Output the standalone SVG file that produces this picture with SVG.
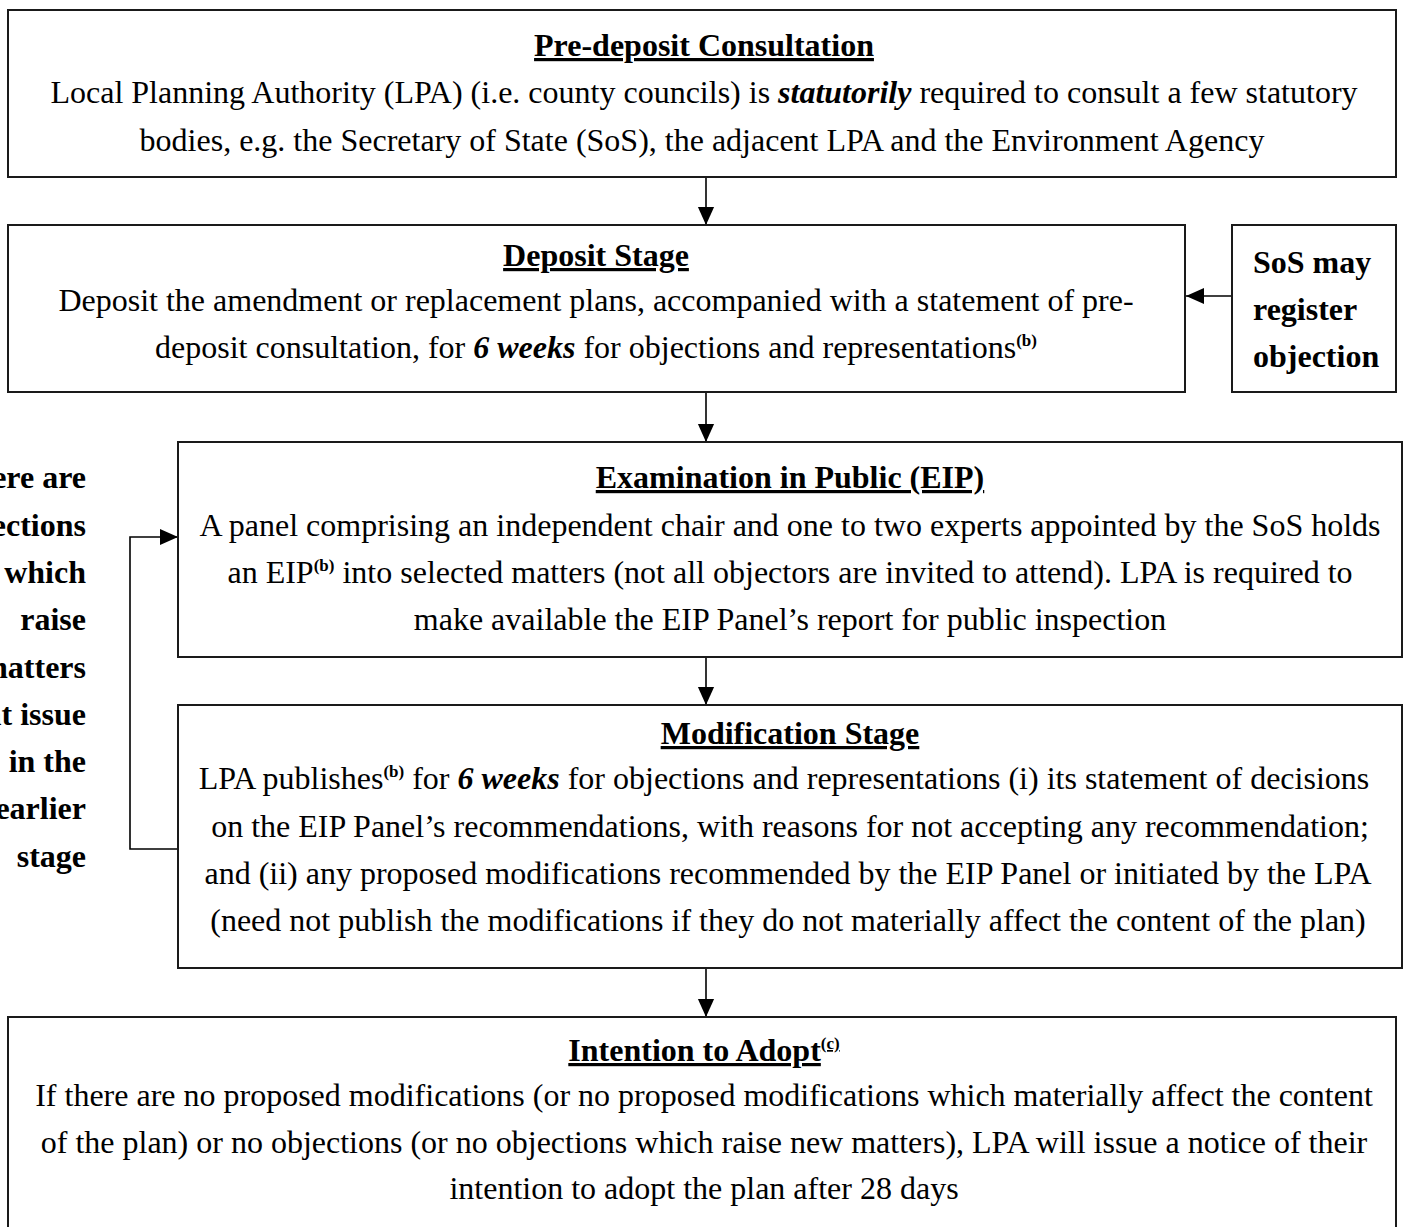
<svg xmlns="http://www.w3.org/2000/svg" width="1404" height="1227" viewBox="0 0 1404 1227">
  <style>
    .box { fill: #fff; stroke: #1a1a1a; stroke-width: 2; }
    .txt { font-family: "Liberation Serif", "Times New Roman", serif; font-size: 32px; fill: #000; }
    .ttl { font-family: "Liberation Serif", "Times New Roman", serif; font-size: 32px; font-weight: bold; text-decoration: underline; fill: #000; }
    .side { font-family: "Liberation Serif", "Times New Roman", serif; font-size: 32px; font-weight: bold; fill: #000; }
    .c { text-anchor: middle; }
    .r { text-anchor: end; }
    .bi { font-weight: bold; font-style: italic; }
    .sup { font-size: 17px; font-weight: bold; }
    .wire { fill: none; stroke: #000; stroke-width: 1.6; }
  </style>
  <defs>
    <marker id="arrow" viewBox="0 0 10 10" refX="10" refY="5" markerUnits="userSpaceOnUse" markerWidth="18" markerHeight="18" orient="auto">
      <path d="M0,0.5 L10,5 L0,9.5 z" fill="#000"/>
    </marker>
  </defs>

  <rect x="0" y="0" width="1404" height="1227" fill="#fff"/>

  <!-- connectors -->
  <g id="connectors">
    <line class="wire" x1="706" y1="177" x2="706" y2="225" marker-end="url(#arrow)"/>
    <line class="wire" x1="1232" y1="296" x2="1186" y2="296" marker-end="url(#arrow)"/>
    <line class="wire" x1="706" y1="392" x2="706" y2="442" marker-end="url(#arrow)"/>
    <line class="wire" x1="706" y1="657" x2="706" y2="705" marker-end="url(#arrow)"/>
    <line class="wire" x1="706" y1="968" x2="706" y2="1017" marker-end="url(#arrow)"/>
    <polyline class="wire" points="178,849 130,849 130,537 178,537" marker-end="url(#arrow)"/>
  </g>

  <!-- Pre-deposit Consultation -->
  <g id="node-predeposit">
    <rect class="box" x="8" y="10" width="1388" height="167"/>
    <text class="ttl c" x="704" y="56">Pre-deposit Consultation</text>
    <text class="txt c" x="704" y="103">Local Planning Authority (LPA) (i.e. county councils) is <tspan class="bi">statutorily</tspan> required to consult a few statutory</text>
    <text class="txt c" x="702" y="151">bodies, e.g. the Secretary of State (SoS), the adjacent LPA and the Environment Agency</text>
  </g>

  <!-- Deposit Stage -->
  <g id="node-deposit">
    <rect class="box" x="8" y="225" width="1177" height="167"/>
    <text class="ttl c" x="596" y="266">Deposit Stage</text>
    <text class="txt c" x="596" y="311">Deposit the amendment or replacement plans, accompanied with a statement of pre-</text>
    <text class="txt c" x="596" y="358">deposit consultation, for <tspan class="bi">6 weeks</tspan> for objections and representations<tspan class="sup" dy="-12">(b)</tspan></text>
  </g>

  <!-- SoS objection -->
  <g id="node-sos">
    <rect class="box" x="1232" y="225" width="164" height="167"/>
    <text class="side" x="1253" y="273">SoS may</text>
    <text class="side" x="1253" y="320">register</text>
    <text class="side" x="1253" y="367">objection</text>
  </g>

  <!-- Examination in Public -->
  <g id="node-eip">
    <rect class="box" x="178" y="442" width="1224" height="215"/>
    <text class="ttl c" x="790" y="488">Examination in Public (EIP)</text>
    <text class="txt c" x="790" y="536">A panel comprising an independent chair and one to two experts appointed by the SoS holds</text>
    <text class="txt c" x="790" y="583">an EIP<tspan class="sup" dy="-12">(b)</tspan><tspan dy="12"> into selected matters (not all objectors are invited to attend). LPA is required to</tspan></text>
    <text class="txt c" x="790" y="630">make available the EIP Panel’s report for public inspection</text>
  </g>

  <!-- Modification Stage -->
  <g id="node-modification">
    <rect class="box" x="178" y="705" width="1224" height="263"/>
    <text class="ttl c" x="790" y="744">Modification Stage</text>
    <text class="txt c" x="784" y="789">LPA publishes<tspan class="sup" dy="-12">(b)</tspan><tspan dy="12"> for </tspan><tspan class="bi">6 weeks</tspan> for objections and representations (i) its statement of decisions</text>
    <text class="txt c" x="790" y="837">on the EIP Panel’s recommendations, with reasons for not accepting any recommendation;</text>
    <text class="txt c" x="788" y="884">and (ii) any proposed modifications recommended by the EIP Panel or initiated by the LPA</text>
    <text class="txt c" x="788" y="931">(need not publish the modifications if they do not materially affect the content of the plan)</text>
  </g>

  <!-- Side note on the loop back to EIP -->
  <g id="node-loop-note">
    <text class="side r" x="86" y="488">there are</text>
    <text class="side r" x="86" y="536">objections</text>
    <text class="side r" x="86" y="583">which</text>
    <text class="side r" x="86" y="630">raise</text>
    <text class="side r" x="86" y="678">matters</text>
    <text class="side r" x="86" y="725">at issue</text>
    <text class="side r" x="86" y="772">in the</text>
    <text class="side r" x="86" y="819">earlier</text>
    <text class="side r" x="86" y="867">stage</text>
  </g>

  <!-- Intention to Adopt -->
  <g id="node-adopt">
    <rect class="box" x="8" y="1017" width="1388" height="240"/>
    <text class="ttl c" x="704" y="1061">Intention to Adopt<tspan class="sup" dy="-12">(c)</tspan></text>
    <text class="txt c" x="704" y="1106">If there are no proposed modifications (or no proposed modifications which materially affect the content</text>
    <text class="txt c" x="704" y="1153">of the plan) or no objections (or no objections which raise new matters), LPA will issue a notice of their</text>
    <text class="txt c" x="704" y="1199">intention to adopt the plan after 28 days</text>
  </g>
</svg>
